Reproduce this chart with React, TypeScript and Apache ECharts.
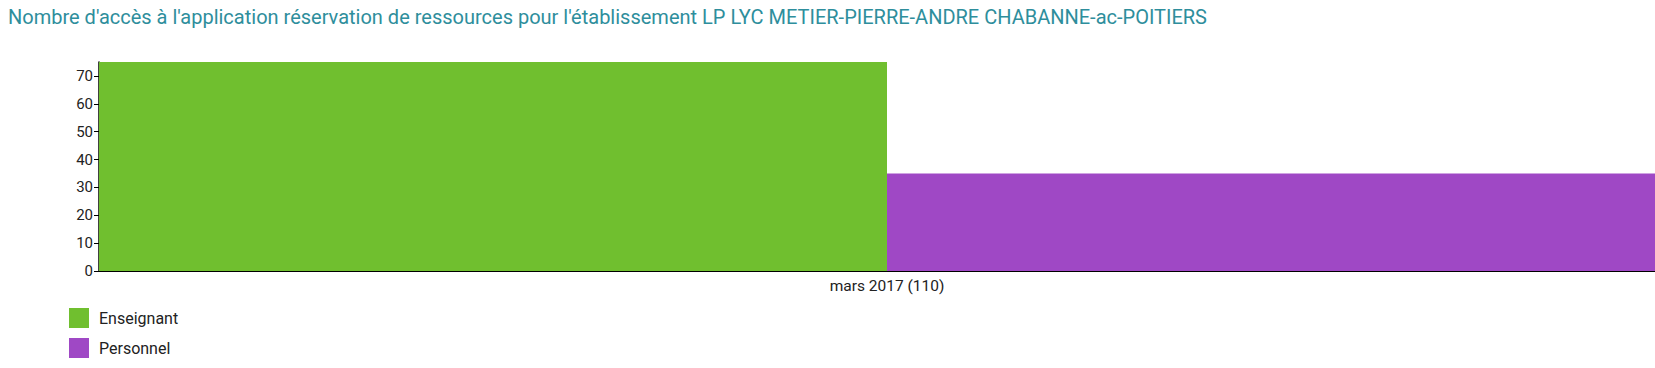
import React, { useEffect, useRef } from "react";
import * as echarts from "echarts";

const titleText =
  "Nombre d'accès à l'application réservation de ressources pour l'établissement LP LYC METIER-PIERRE-ANDRE CHABANNE-ac-POITIERS";
const categories = ["mars 2017 (110)"];
const seriesNames = ["Enseignant", "Personnel"];
const enseignant = [75];
const personnel = [35];
const yTicks = [0, 10, 20, 30, 40, 50, 60, 70];
const colors = ["#70bf2f", "#9f48c5"];

export default function App() {
  const ref = useRef<HTMLDivElement>(null);
  useEffect(() => {
    if (!ref.current) return;
    const chart = echarts.init(ref.current, null, { renderer: "svg" });
    chart.setOption({
      animation: false,
      textStyle: { fontFamily: "Roboto" },
      title: {
        text: titleText,
        left: 3,
        top: 2,
        textStyle: {
          color: "#2e8e9c",
          fontSize: 20,
          fontWeight: "normal",
          fontFamily: "Roboto",
        },
      },
      legend: {
        orient: "vertical",
        left: 69,
        top: 308,
        padding: 0,
        itemWidth: 20,
        itemHeight: 20,
        itemGap: 10,
        icon: "rect",
        data: seriesNames,
        textStyle: {
          color: "#222",
          fontSize: 16,
          fontFamily: "Roboto",
          padding: [0, 0, 0, 5],
        },
      },
      grid: { left: 99, right: 0, top: 62, bottom: 97, containLabel: false },
      xAxis: {
        type: "category",
        data: categories,
        axisLine: { show: true, lineStyle: { color: "#000", width: 1 } },
        axisTick: { show: false },
        axisLabel: { color: "#222", fontSize: 15.5, margin: 7, fontFamily: "Roboto" },
      },
      yAxis: {
        type: "value",
        min: 0,
        max: 75,
        splitLine: { show: false },
        axisLine: { show: true, lineStyle: { color: "#000", width: 1.5 } },
        axisTick: {
          show: true,
          length: 5,
          customValues: yTicks,
          lineStyle: { color: "#000", width: 1 },
        },
        axisLabel: {
          customValues: yTicks,
          color: "#222",
          fontSize: 15,
          margin: 6,
          fontFamily: "Roboto",
        },
      },
      series: [
        {
          name: seriesNames[0],
          type: "bar",
          data: enseignant,
          itemStyle: { color: colors[0] },
          barGap: "0%",
          barCategoryGap: "0%",
        },
        {
          name: seriesNames[1],
          type: "bar",
          data: personnel,
          itemStyle: { color: colors[1] },
          barGap: "0%",
          barCategoryGap: "0%",
        },
      ],
    });
    return () => chart.dispose();
  }, []);
  return (
    <div
      style={{ position: "absolute", left: 0, top: 0, width: 1655, height: 368, overflow: "hidden", background: "#fff" }}
    >
      <div ref={ref} style={{ width: 1675, height: 368 }} />
    </div>
  );
}
